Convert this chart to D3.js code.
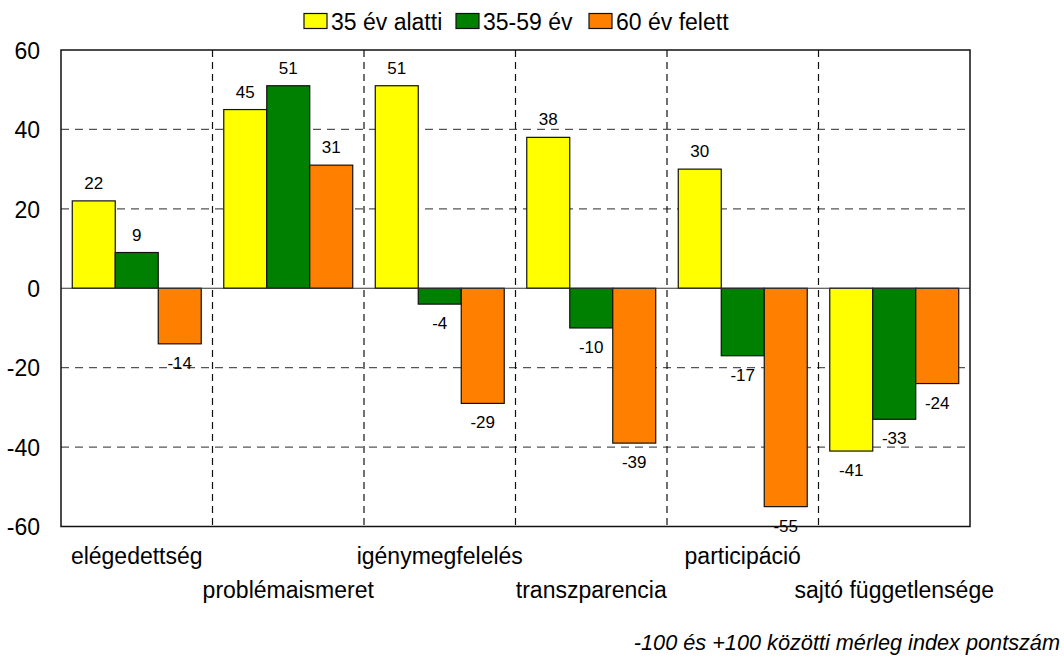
<!DOCTYPE html>
<html>
<head>
<meta charset="utf-8">
<script src="https://cdn.jsdelivr.net/npm/d3@7/dist/d3.min.js"></script>
<style>
html,body{margin:0;padding:0;background:#fff;}
svg{display:block;font-family:"Liberation Sans",Arial,sans-serif;}
</style>
</head>
<body>
<svg id="chart" width="1064" height="659"></svg>
<script>
const categories = ["elégedettség","problémaismeret","igénymegfelelés","transzparencia","participáció","sajtó függetlensége"];
const seriesNames = ["35 év alatti","35-59 év","60 év felett"];
const under35 = [22,45,51,38,30,-41];
const mid3559 = [9,51,-4,-10,-17,-33];
const over60 = [-14,31,-29,-39,-55,-24];
const seriesValues = [under35, mid3559, over60];
const colors = ["#FFFF00","#008000","#FF8000"];
const yTicks = [-60,-40,-20,0,20,40,60];
const footnote = "-100 és +100 közötti mérleg index pontszám";

const svg = d3.select("#chart");
const L = 61, R = 970, T = 50, B = 526.5;

const x0 = d3.scaleBand().domain(categories).range([L, R]).paddingInner(0).paddingOuter(0);
const x1 = d3.scaleBand().domain(seriesNames).range([0, x0.bandwidth()]).paddingInner(0).paddingOuter(0.262);
const y = d3.scaleLinear().domain([-60, 60]).range([B, T]);

// horizontal gridlines
svg.append("g").selectAll("line").data(yTicks.filter(t => t !== 0 && t !== 60 && t !== -60)).join("line")
  .attr("x1", L).attr("x2", R).attr("y1", d => y(d)).attr("y2", d => y(d))
  .attr("stroke", "#555").attr("stroke-width", 1.2).attr("stroke-dasharray", "8,6");

// vertical category separators
svg.append("g").selectAll("line").data(categories.slice(1)).join("line")
  .attr("x1", d => x0(d)).attr("x2", d => x0(d)).attr("y1", T).attr("y2", B)
  .attr("stroke", "#111").attr("stroke-width", 1.2).attr("stroke-dasharray", "7,5");

// bars
const data = [];
categories.forEach((c, i) => seriesNames.forEach((s, j) => data.push({c, s, j, v: seriesValues[j][i]})));

svg.append("g").selectAll("rect").data(data).join("rect")
  .attr("x", d => x0(d.c) + x1(d.s))
  .attr("width", x1.bandwidth())
  .attr("y", d => y(Math.max(0, d.v)))
  .attr("height", d => Math.abs(y(d.v) - y(0)))
  .attr("fill", d => colors[d.j])
  .attr("stroke", "#111").attr("stroke-width", 1.2);

// zero line
svg.append("line").attr("x1", L).attr("x2", R).attr("y1", y(0)).attr("y2", y(0))
  .attr("stroke", "#333").attr("stroke-width", 1.2);

// value labels
svg.append("g").selectAll("text").data(data).join("text")
  .attr("x", d => x0(d.c) + x1(d.s) + x1.bandwidth() / 2)
  .attr("y", d => d.v >= 0 ? y(d.v) - 12 : y(d.v) + 25)
  .attr("text-anchor", "middle")
  .attr("font-size", 17)
  .attr("fill", "#000")
  .text(d => String(d.v));

// frame
svg.append("rect").attr("x", L).attr("y", T).attr("width", R - L).attr("height", B - T)
  .attr("fill", "none").attr("stroke", "#111").attr("stroke-width", 1.5);

// y axis labels
const yAxis = d3.axisLeft(y).tickValues(yTicks).tickSize(0).tickPadding(0).tickFormat(d => String(d));
const gy = svg.append("g").attr("transform", `translate(${L - 21},0)`).call(yAxis);
gy.select(".domain").remove();
gy.selectAll("text").attr("font-size", 23).attr("font-family", "Liberation Sans, Arial, sans-serif")
  .attr("fill", "#000").attr("dy", "0.36em");

// category labels (alternating rows)
svg.append("g").selectAll("text").data(categories).join("text")
  .attr("x", d => x0(d) + x0.bandwidth() / 2)
  .attr("y", (d, i) => i % 2 === 0 ? 564 : 598)
  .attr("text-anchor", "middle")
  .attr("font-size", 23)
  .attr("fill", "#000")
  .text(d => d);

// legend
const legendX = [304, 456, 589];
const lg = svg.append("g").selectAll("g").data(seriesNames).join("g")
  .attr("transform", (d, i) => `translate(${legendX[i]},0)`);
lg.append("rect").attr("x", 0).attr("y", 13.5).attr("width", 23).attr("height", 15)
  .attr("fill", (d, i) => colors[i]).attr("stroke", "#111").attr("stroke-width", 1.2);
lg.append("text").attr("x", 27).attr("y", 29.5).attr("font-size", 23).attr("fill", "#000").text(d => d);

// footnote
svg.append("text").attr("x", 1060).attr("y", 650).attr("text-anchor", "end")
  .attr("font-size", 21.7).attr("font-style", "italic").attr("fill", "#000").text(footnote);
</script>
</body>
</html>
